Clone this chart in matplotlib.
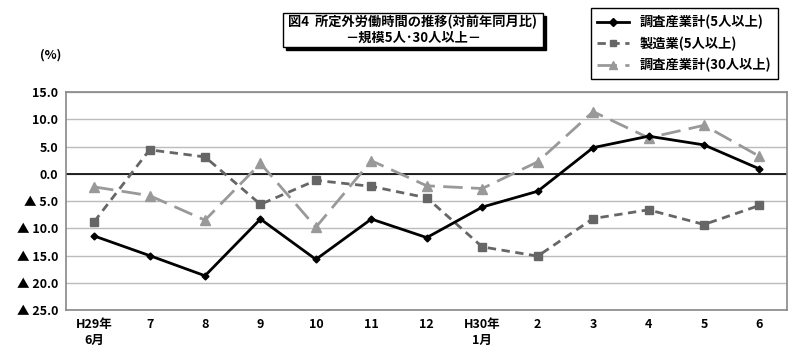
import matplotlib.pyplot as plt
from matplotlib.patches import FancyBboxPatch
from matplotlib.lines import Line2D

plt.rcParams['font.family'] = ['Noto Sans CJK JP', 'DejaVu Sans']

# data
months = ['H29年\n6月', '7', '8', '9', '10', '11', '12', 'H30年\n1月', '2', '3', '4', '5', '6']
total5 = [-11.4, -15.0, -18.7, -8.3, -15.7, -8.3, -11.7, -6.1, -3.2, 4.8, 6.9, 5.3, 0.9]
manuf5 = [-8.8, 4.4, 3.1, -5.6, -1.2, -2.3, -4.4, -13.4, -15.1, -8.2, -6.6, -9.3, -5.8]
total30 = [-2.4, -4.0, -8.5, 1.9, -9.8, 2.4, -2.2, -2.7, 2.2, 11.4, 6.6, 8.9, 3.2]
labels = ['調査産業計(5人以上)', '製造業(5人以上)', '調査産業計(30人以上)']
yticks = [15, 10, 5, 0, -5, -10, -15, -20, -25]

fig = plt.figure(figsize=(8, 3.54), dpi=100)
ax = fig.add_axes([0.083, 0.124, 0.901, 0.616])

x = list(range(len(months)))
ax.plot(x, total5, color='black', lw=2, marker='D', ms=3.5, zorder=4)
ax.plot(x, manuf5, color='#666666', lw=2, ls=(0, (3, 2)), marker='s', ms=5.5, zorder=3)
ax.plot(x, total30, color='#999999', lw=2, ls=(0, (7, 3)), marker='^', ms=7, zorder=2)

ax.axhline(0, color='black', lw=1.2, zorder=1)
ax.set_xlim(-0.5, 12.5)
ax.set_ylim(-25, 15)
ax.set_yticks(yticks)
ax.set_yticklabels([('▲ %.1f' % -v) if v < 0 else '%.1f' % v for v in yticks],
                   fontsize=9, fontweight='bold')
ax.set_xticks(x)
ax.set_xticklabels(months, fontsize=9, fontweight='bold', va='top', linespacing=1.3)
ax.tick_params(length=0, pad=6)
ax.grid(axis='y', color='#bbbbbb', lw=1)
ax.set_axisbelow(True)
for s in ax.spines.values():
    s.set_color('#888888')
    s.set_linewidth(1.2)

fig.text(0.063, 0.845, '(%)', fontsize=9, fontweight='bold', ha='center', va='center')

# title box with shadow
fig.patches.append(FancyBboxPatch((0.358, 0.86), 0.325, 0.095, boxstyle='square,pad=0',
                                  transform=fig.transFigure, fc='black', ec='black'))
fig.patches.append(FancyBboxPatch((0.354, 0.868), 0.325, 0.095, boxstyle='square,pad=0',
                                  transform=fig.transFigure, fc='white', ec='black', lw=1))
fig.text(0.516, 0.937, '図4  所定外労働時間の推移(対前年同月比)', fontsize=9.5, fontweight='bold',
         ha='center', va='center')
fig.text(0.516, 0.893, '－規模5人･30人以上－', fontsize=9.5, fontweight='bold',
         ha='center', va='center')

handles = [
    Line2D([], [], color='black', lw=2, marker='D', ms=4),
    Line2D([], [], color='#666666', lw=2, ls=(0, (3, 2)), marker='s', ms=5),
    Line2D([], [], color='#999999', lw=2, ls=(0, (7, 3)), marker='^', ms=6),
]
leg = fig.legend(handles, labels, loc='upper right', bbox_to_anchor=(0.972, 0.977),
                 borderaxespad=0, fancybox=False, edgecolor='black', framealpha=1,
                 handlelength=2.4, prop={'size': 9.5, 'weight': 'bold'},
                 borderpad=0.5, labelspacing=0.55)
leg.get_frame().set_linewidth(1)

fig.savefig('out.png', dpi=100)
